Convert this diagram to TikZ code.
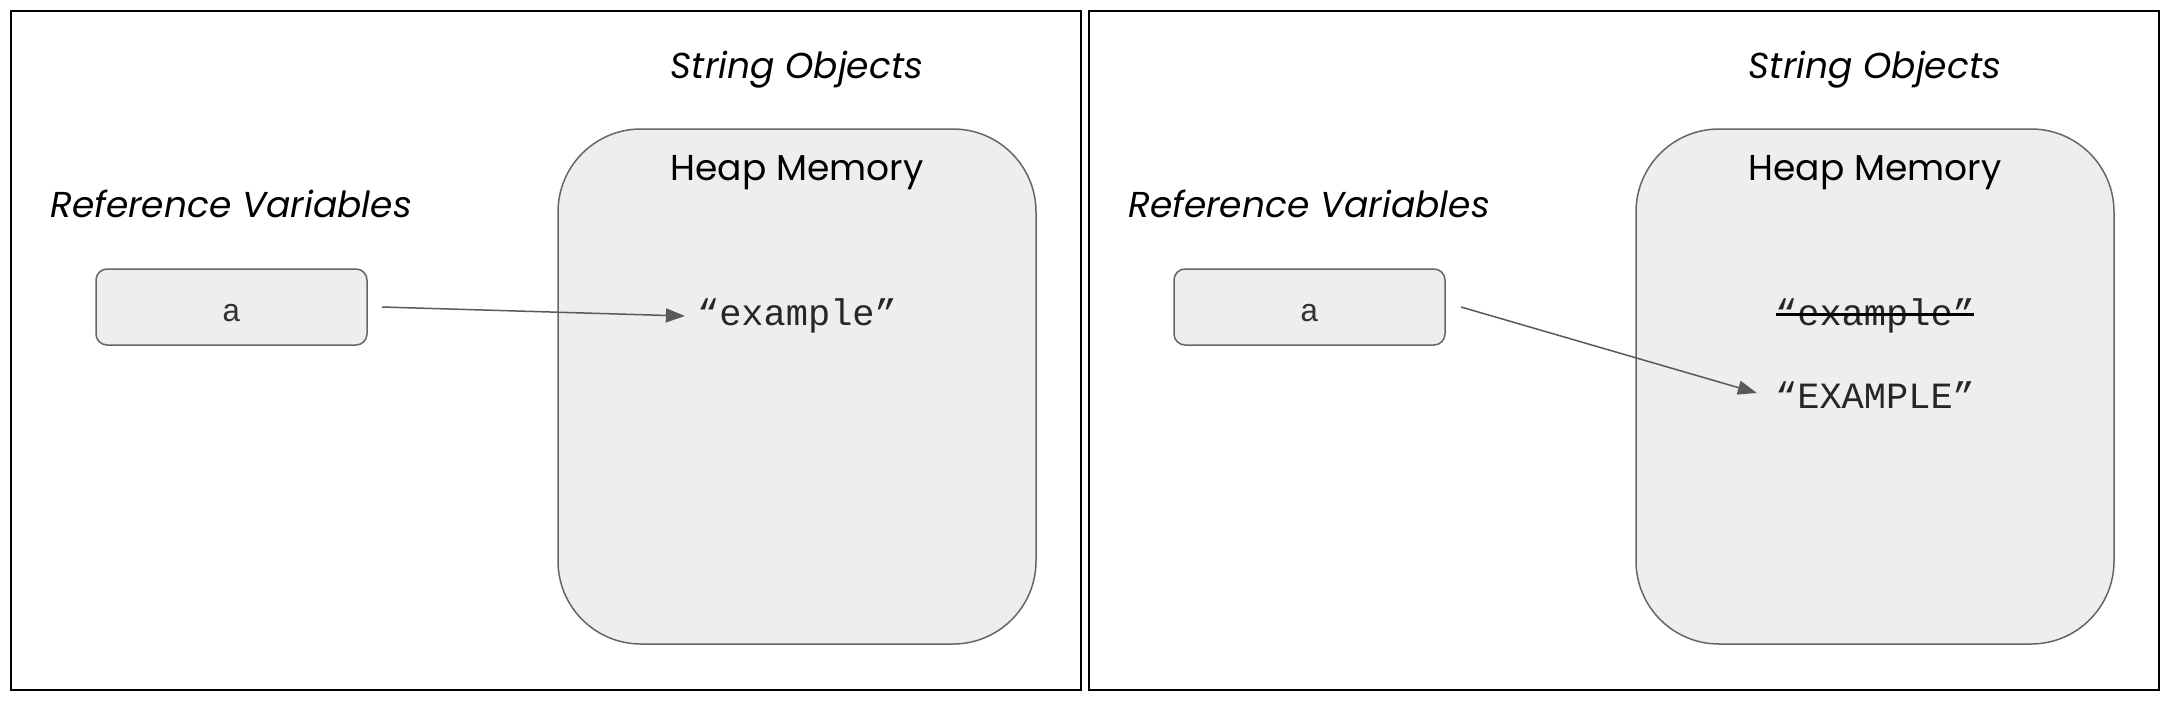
\documentclass[tikz,border=0pt]{standalone}
\usepackage{fontspec}
\setmainfont{Poppins}
\newfontfamily\monof{Liberation Mono}
\usetikzlibrary{arrows.meta}
\definecolor{heapfill}{HTML}{EEEEEE}
\definecolor{edgegray}{HTML}{666666}
\definecolor{arrowgray}{HTML}{595959}
\tikzset{
  panel/.style={draw=black, line width=2pt},
  heap/.style={draw=edgegray, fill=heapfill, line width=1.5pt, rounded corners=83pt},
  varbox/.style={draw=edgegray, fill=heapfill, line width=1.5pt, rounded corners=11pt, minimum width=271pt, minimum height=76pt, inner sep=0pt},
  varlabel/.style={font=\monof\fontsize{32}{36}\selectfont, text=black!80, inner sep=0pt, anchor=base},
  title/.style={font=\itshape\fontsize{36}{42}\selectfont, inner sep=0pt, anchor=base},
  heaptitle/.style={font=\fontsize{36}{42}\selectfont, inner sep=0pt, anchor=base},
  strval/.style={font=\monof\fontsize{37}{42}\selectfont, inner sep=0pt, text=black!85, anchor=base},
  ref/.style={draw=arrowgray, line width=1.5pt, -{Triangle[length=19pt,width=14pt]}},
  strike/.style={draw=black, line width=3pt}
}
\begin{document}
\begin{tikzpicture}[x=1pt,y=-1pt]
\useasboundingbox (0,0) rectangle (2172,704);
% left panel
\draw[panel] (11,11) rectangle (1081,690);
\draw[heap] (558,129) rectangle (1036,644);
\node[title] (so1) at (797,78) {String Objects};
\node[heaptitle] (hm1) at (797,180) {Heap Memory};
\node[title] (rv1) at (231,217) {Reference Variables};
\node[varbox] (a1) at (231.5,307) {};
\node[varlabel] (l1) at (231.5,321) {a};
\node[strval] (ex1) at (797,325) {“example”};
\coordinate (a1e) at (382,307);
\draw[ref] (a1e) -- ([shift={(-12pt,9pt)}]ex1.base west);
% right panel
\draw[panel] (1089,11) rectangle (2159,690);
\draw[heap] (1636,129) rectangle (2114,644);
\node[title] (so2) at (1875,78) {String Objects};
\node[heaptitle] (hm2) at (1875,180) {Heap Memory};
\node[title] (rv2) at (1309,217) {Reference Variables};
\node[varbox] (a2) at (1309.5,307) {};
\node[varlabel] (l2) at (1309.5,321) {a};
\node[strval] (ex2) at (1875,325) {“example”};
\draw[strike] (1776,314) -- (1974,314);
\node[strval] (EX2) at (1875,408) {“EXAMPLE”};
\coordinate (a2e) at (1461,307);
\draw[ref] (a2e) -- ([shift={(-18pt,15pt)}]EX2.base west);
\end{tikzpicture}
\end{document}
